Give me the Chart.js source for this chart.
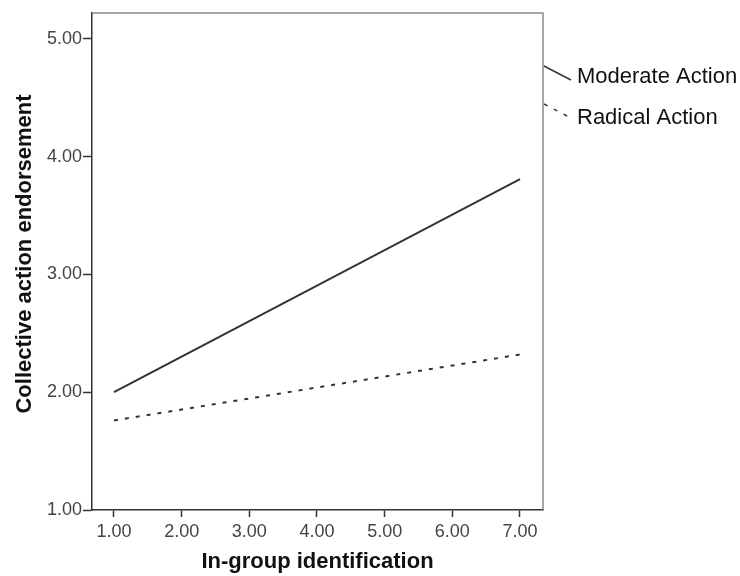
<!DOCTYPE html>
<html>
<head>
<meta charset="UTF-8">
<script src="https://cdn.jsdelivr.net/npm/chart.js"></script>
<style>
  body { margin: 0; background: #fff; }
  #wrap { width: 740px; height: 576px; }
</style>
</head>
<body>
<div id="wrap"><canvas id="c" width="740" height="576"></canvas></div>
<script>
// data
const idLevels = [1, 7];
const moderateAction = [2.00, 3.81];
const radicalAction = [1.76, 2.32];
const xTicks = [1, 2, 3, 4, 5, 6, 7];
const yTicks = [1, 2, 3, 4, 5];
const seriesNames = ['Moderate Action', 'Radical Action'];
const yTitle = 'Collective action endorsement';
const xTitle = 'In-group identification';

const FONT = '"Liberation Sans", Arial, sans-serif';
const INK = '#333';

// top/right frame, y title, and the outside legend with slanted line keys
const frameAndKey = {
  id: 'frameAndKey',
  afterDraw(chart) {
    const { ctx, chartArea: a } = chart;
    ctx.save();
    ctx.strokeStyle = '#8a8a8a';
    ctx.lineWidth = 1.5;
    ctx.beginPath();
    ctx.moveTo(a.left, a.top);
    ctx.lineTo(a.right, a.top);
    ctx.lineTo(a.right, a.bottom);
    ctx.stroke();

    // y axis title (a bit above the axis centre, as in the original)
    ctx.save();
    ctx.translate(25, 254);
    ctx.rotate(-Math.PI / 2);
    ctx.fillStyle = '#111';
    ctx.font = 'bold 22px ' + FONT;
    ctx.textAlign = 'center';
    ctx.textBaseline = 'middle';
    ctx.fillText(yTitle, 0, 0);
    ctx.restore();

    const keyY = [66, 104];
    const textY = [77, 118];
    chart.data.datasets.forEach((ds, i) => {
      ctx.strokeStyle = ds.borderColor;
      ctx.lineWidth = 1.5;
      ctx.setLineDash(ds.borderDash || []);
      ctx.beginPath();
      ctx.moveTo(a.right + 1, keyY[i]);
      ctx.lineTo(a.right + 28, keyY[i] + 14);
      ctx.stroke();
      ctx.setLineDash([]);
      ctx.fillStyle = '#111';
      ctx.font = '22px ' + FONT;
      ctx.textBaseline = 'middle';
      ctx.fillText(ds.label, 577, textY[i]);
    });
    ctx.restore();
  }
};

new Chart(document.getElementById('c'), {
  type: 'scatter',
  data: {
    datasets: [
      {
        label: seriesNames[0],
        data: idLevels.map((x, i) => ({ x, y: moderateAction[i] })),
        showLine: true, borderColor: INK, borderWidth: 2, pointRadius: 0
      },
      {
        label: seriesNames[1],
        data: idLevels.map((x, i) => ({ x, y: radicalAction[i] })),
        showLine: true, borderColor: INK, borderWidth: 2, borderDash: [4, 7], pointRadius: 0
      }
    ]
  },
  options: {
    responsive: false,
    animation: false,
    layout: { padding: { top: 13, right: 197, left: 0, bottom: 0 } },
    plugins: { legend: { display: false }, tooltip: { enabled: false } },
    scales: {
      x: {
        type: 'linear', min: 0.675, max: 7.34,
        afterBuildTicks: s => { s.ticks = xTicks.map(v => ({ value: v })); },
        afterFit: s => { s.height = 66; },
        grid: { drawOnChartArea: false, tickLength: 7, tickColor: INK, tickWidth: 1.5 },
        border: { color: INK, width: 1.5 },
        ticks: { color: '#444', font: { family: FONT, size: 18 }, padding: 4, maxRotation: 0,
                 callback: v => Number(v).toFixed(2) },
        title: { display: true, text: xTitle, color: '#111',
                 font: { family: FONT, size: 22, weight: 'bold' }, padding: { top: 0, bottom: 1 } }
      },
      y: {
        type: 'linear', min: 1, max: 5.22,
        afterBuildTicks: s => { s.ticks = yTicks.map(v => ({ value: v })); },
        afterFit: s => { s.width = 92; },
        grid: { drawOnChartArea: false, tickLength: 9, tickColor: INK, tickWidth: 1.5 },
        border: { color: INK, width: 1.5 },
        ticks: { color: '#444', font: { family: FONT, size: 18 }, padding: 1,
                 callback: v => Number(v).toFixed(2) }
      }
    }
  },
  plugins: [frameAndKey]
});
</script>
</body>
</html>
